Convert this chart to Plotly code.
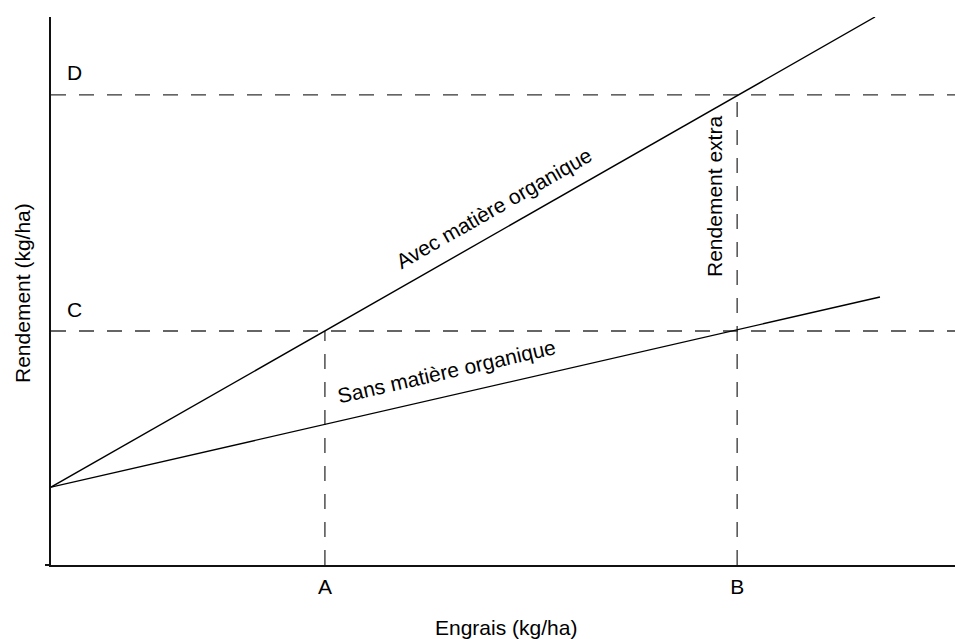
import plotly.graph_objects as go

# Data (abstract units)
x_A = 3.03
x_B = 7.59
y_C = 4.27
y_D = 8.58
y_intercept = 1.42
avec_x = [0.0, 9.115]
avec_y = [y_intercept, 10.0]
sans_x = [0.0, 9.17]
sans_y = [y_intercept, 4.89]
x_ticks = [x_A, x_B]
x_tick_labels = ["A", "B"]
level_labels = ["C", "D"]
level_values = [y_C, y_D]

FONT = "Liberation Sans, Arial, sans-serif"
W, H = 955, 639
L, R, T, B = 51, 0, 17, 74
XR = [0, 10]
YR = [0, 10]

def px_to_paper(px, py):
    return (px - L) / (W - L - R), (H - B - py) / (H - T - B)

fig = go.Figure()
dash_style = dict(color="#333333", width=1.3, dash="15px,13px")
for yv in level_values:
    fig.add_trace(go.Scatter(x=[XR[0], XR[1]], y=[yv, yv], mode="lines",
                             line=dash_style, hoverinfo="skip", showlegend=False))
fig.add_trace(go.Scatter(x=[x_A, x_A], y=[YR[0], y_C], mode="lines",
                         line=dash_style, hoverinfo="skip", showlegend=False))
fig.add_trace(go.Scatter(x=[x_B, x_B], y=[YR[0], y_D], mode="lines",
                         line=dash_style, hoverinfo="skip", showlegend=False))
fig.add_trace(go.Scatter(x=avec_x, y=avec_y, mode="lines",
                         line=dict(color="black", width=1.4), showlegend=False))
fig.add_trace(go.Scatter(x=sans_x, y=sans_y, mode="lines",
                         line=dict(color="black", width=1.4), showlegend=False))

ann = []
font = dict(family=FONT, size=21, color="black")
for lab, yv in zip(level_labels, level_values):
    ann.append(dict(x=0, y=yv, xref="x", yref="y", text=lab, showarrow=False,
                    xanchor="center", yanchor="middle", xshift=23, yshift=22, font=font))

def add_text(px, py, text, angle=0):
    x, y = px_to_paper(px, py)
    ann.append(dict(x=x, y=y, xref="paper", yref="paper", text=text, showarrow=False,
                    xanchor="center", yanchor="middle", textangle=angle, font=font))

add_text(493, 208, "Avec matière organique", -29.7)
add_text(446, 371, "Sans matière organique", -12.9)
add_text(714, 197, "Rendement extra", -90)
add_text(506, 627, "Engrais (kg/ha)")
add_text(23, 293, "Rendement (kg/ha)", -90)

fig.update_layout(
    width=W, height=H,
    margin=dict(l=L, r=R, t=T, b=B, pad=0),
    paper_bgcolor="white", plot_bgcolor="white",
    annotations=ann,
    xaxis=dict(range=XR, showgrid=False, zeroline=False, showline=True,
               linecolor="#111111", linewidth=1.5, tickvals=x_ticks, ticktext=x_tick_labels,
               ticks="", tickfont=font, ticklabelstandoff=2),
    yaxis=dict(range=YR, showgrid=False, zeroline=False, showline=True,
               linecolor="#111111", linewidth=1.5, tickvals=[0], ticktext=[""],
               ticks="outside", ticklen=4, tickcolor="#111111", tickwidth=1.5),
)

fig.write_html("out.html", config={"displayModeBar": False},
               post_script="document.body.style.margin='0';document.body.style.overflow='hidden';")
